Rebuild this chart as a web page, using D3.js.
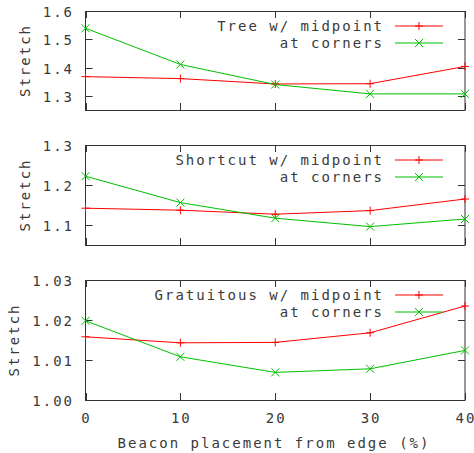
<!DOCTYPE html>
<html>
<head>
<meta charset="utf-8">
<script src="https://cdn.jsdelivr.net/npm/d3@7"></script>
<style>
  body { margin: 0; background: #fff; }
  text { font-family: "DejaVu Sans Mono", monospace; font-size: 14px; letter-spacing: 2px; fill: #3a3a3a; }
</style>
</head>
<body>
<svg id="chart" width="474" height="453"></svg>
<script>
// beacon placement from edge (%)
const beacon = [0, 10, 20, 30, 40];

const treeMid = [1.368, 1.361, 1.342, 1.343, 1.404];
const treeCorner = [1.539, 1.411, 1.340, 1.307, 1.307];
const shortcutMid = [1.142, 1.137, 1.127, 1.136, 1.165];
const shortcutCorner = [1.222, 1.156, 1.117, 1.096, 1.115];
const gratMid = [1.0158, 1.0143, 1.0144, 1.0168, 1.0235];
const gratCorner = [1.0198, 1.0108, 1.0069, 1.0078, 1.0124];

const panelNames = ["Tree", "Shortcut", "Gratuitous"];
const yDomains = [[1.25, 1.6], [1.05, 1.3], [1.0, 1.03]];
const yTicks = [[1.3, 1.4, 1.5, 1.6], [1.1, 1.2, 1.3], [1.0, 1.01, 1.02, 1.03]];
const yFormats = [".1f", ".1f", ".2f"];
const xTicks = [0, 10, 20, 30, 40];

const panels = [
  { name: panelNames[0], mid: treeMid, corner: treeCorner, top: 11, bottom: 110, labelX: 25 },
  { name: panelNames[1], mid: shortcutMid, corner: shortcutCorner, top: 145, bottom: 245, labelX: 25 },
  { name: panelNames[2], mid: gratMid, corner: gratCorner, top: 280, bottom: 400, labelX: 14 }
];

const left = 85.5, right = 465;
const red = "#ff0000", green = "#00c000", frame = "#333";
const tickLen = 7;

const svg = d3.select("#chart");

const x = d3.scaleLinear().domain([0, 40]).range([left, right]);

function plus(g, px, py, color) {
  g.append("path")
    .attr("d", `M${px - 4},${py}H${px + 4}M${px},${py - 4}V${py + 4}`)
    .attr("stroke", color).attr("fill", "none");
}
function cross(g, px, py, color) {
  g.append("path")
    .attr("d", `M${px - 4},${py - 4}L${px + 4},${py + 4}M${px - 4},${py + 4}L${px + 4},${py - 4}`)
    .attr("stroke", color).attr("fill", "none");
}

panels.forEach(function (p, i) {
  const y = d3.scaleLinear().domain(yDomains[i]).range([p.bottom, p.top]);
  const g = svg.append("g").attr("class", "panel-" + i);

  // y tick marks (inward, both sides) and labels
  yTicks[i].forEach(function (t) {
    const ty = Math.round(y(t)) + 0.5;
    g.append("line").attr("x1", left).attr("x2", left + tickLen)
      .attr("y1", ty).attr("y2", ty).attr("stroke", frame);
    g.append("line").attr("x1", right - tickLen).attr("x2", right)
      .attr("y1", ty).attr("y2", ty).attr("stroke", frame);
    g.append("text")
      .attr("x", 74).attr("y", ty)
      .attr("text-anchor", "end")
      .attr("dominant-baseline", "central")
      .text(d3.format(yFormats[i])(t));
  });

  // x tick marks top and bottom
  xTicks.forEach(function (t) {
    const tx = Math.round(x(t)) + 0.5;
    g.append("line").attr("x1", tx).attr("x2", tx)
      .attr("y1", p.top).attr("y2", p.top + tickLen).attr("stroke", frame);
    g.append("line").attr("x1", tx).attr("x2", tx)
      .attr("y1", p.bottom - tickLen).attr("y2", p.bottom).attr("stroke", frame);
  });

  // frame
  g.append("rect")
    .attr("x", left).attr("y", p.top + 0.5)
    .attr("width", right - left).attr("height", p.bottom - p.top)
    .attr("fill", "none").attr("stroke", frame);

  // y label
  g.append("text")
    .attr("transform", `translate(${p.labelX},${(p.top + p.bottom) / 2}) rotate(-90)`)
    .attr("text-anchor", "middle")
    .attr("dominant-baseline", "central")
    .text("Stretch");

  const line = d3.line().x((d, k) => x(beacon[k])).y(d => y(d));

  g.append("path").datum(p.mid)
    .attr("d", line).attr("fill", "none").attr("stroke", red);
  g.append("path").datum(p.corner)
    .attr("d", line).attr("fill", "none").attr("stroke", green);

  p.mid.forEach((d, k) => plus(g, x(beacon[k]), y(d), red));
  p.corner.forEach((d, k) => cross(g, x(beacon[k]), y(d), green));

  // legend
  const ly1 = p.top + 15, ly2 = p.top + 32;
  g.append("text").attr("x", 384).attr("y", ly1)
    .attr("text-anchor", "end").attr("dominant-baseline", "central")
    .text(p.name + " w/ midpoint");
  g.append("text").attr("x", 384).attr("y", ly2)
    .attr("text-anchor", "end").attr("dominant-baseline", "central")
    .text("at corners");
  g.append("line").attr("x1", 395).attr("x2", 443)
    .attr("y1", ly1).attr("y2", ly1).attr("stroke", red);
  plus(g, 419, ly1, red);
  g.append("line").attr("x1", 395).attr("x2", 443)
    .attr("y1", ly2).attr("y2", ly2).attr("stroke", green);
  cross(g, 419, ly2, green);
});

// x tick labels below last panel
xTicks.forEach(function (t) {
  svg.append("text")
    .attr("x", x(t) + 1).attr("y", 418)
    .attr("text-anchor", "middle").attr("dominant-baseline", "central")
    .text(t);
});

svg.append("text")
  .attr("x", 274).attr("y", 443)
  .attr("text-anchor", "middle").attr("dominant-baseline", "central")
  .text("Beacon placement from edge (%)");
</script>
</body>
</html>
